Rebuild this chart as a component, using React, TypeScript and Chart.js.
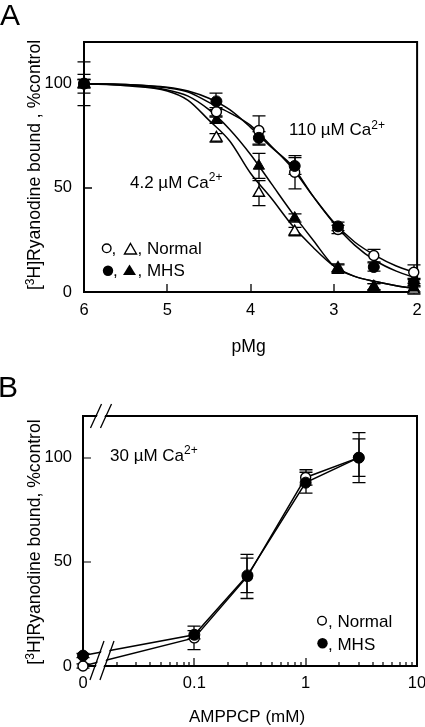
import React, { useEffect, useRef } from "react";
import { Chart, registerables } from "chart.js";

Chart.register(...registerables);

const FONT = '"Liberation Sans", Arial, Helvetica, sans-serif';
const TXT = 17;
const TITLE = 17.6;
const TICK = 16.5;

// ---------------- Panel A data ----------------
const pMgTicks = [2, 3, 4, 5, 6];
const pctTicks = [0, 50, 100];
const pMgPoints = [6, 4.41, 3.9, 3.47, 2.95, 2.52, 2.04];
const ca110Normal = [100, 86.5, 77.5, 57.5, 30, 17.5, 9.5];
const ca110NormalErr = [10.5, 2, 7, 8, 2, 3, 3.5];
const ca110MHS = [100, 91.5, 74, 60.5, 31.5, 12, 4.5];
const ca110MHSErr = [4.5, 4, 3, 4, 2, 2, 2];
const ca4Normal = [100, 74, 47.5, 29, 11.5, 2.5, 1];
const ca4NormalErr = [2, 2, 6, 2, 2, 1.5, 2];
const ca4MHS = [100, 82.5, 60.5, 35.5, 11, 2.5, 2];
const ca4MHSErr = [2, 1.5, 6, 2, 2, 1.5, 2];

const pMgCurve = [6, 5.5, 5, 4.75, 4.5, 4.25, 4, 3.75, 3.5, 3.25, 3, 2.75, 2.5, 2.25, 2];
const fit110Normal = [100, 99.6, 98, 96, 91, 86, 80, 70, 59.5, 46, 33.5, 24, 17.5, 12.5, 9];
const fit110MHS = [100, 99.6, 98.3, 96.5, 93, 87.5, 79, 69.5, 60.5, 46, 33, 22.5, 15, 10, 6.5];
const fit4MHS = [100, 99.3, 97, 94, 87.5, 78, 66, 52, 38, 25, 12.5, 7.5, 5, 3, 1.5];
const fit4Normal = [100, 99, 96.5, 92, 82.5, 72.5, 57, 45, 32, 21.5, 12.5, 7.5, 5, 3, 1.5];

// ---------------- Panel B data ----------------
const amppcp = [0, 0.1, 0.3, 1, 3];
const ZERO_AT = 0.01; // "0" is drawn at the axis break position
const amppcpTicks = [0.01, 0.1, 1, 10];
const amppcpMinor = [0.02, 0.03, 0.04, 0.05, 0.06, 0.07, 0.08, 0.09, 0.2, 0.3, 0.4, 0.5, 0.6, 0.7, 0.8, 0.9, 2, 3, 4, 5, 6, 7, 8, 9];
const bNormal = [0, 13.5, 43, 90.5, 100];
const bNormalErr = [1, 5.6, 10.6, 3.7, 12];
const bMHS = [5, 15, 43.5, 88, 100];
const bMHSErr = [1, 2, 8.3, 5, 9];

type Part = [string, boolean?];

function richWidth(ctx: CanvasRenderingContext2D, parts: Part[], size: number) {
  let w = 0;
  for (const [t, sup] of parts) {
    ctx.font = `${sup ? 12 : size}px ${FONT}`;
    w += ctx.measureText(t).width;
  }
  return w;
}

function drawRich(ctx: CanvasRenderingContext2D, x: number, y: number, parts: Part[], size: number) {
  let cx = x;
  ctx.textBaseline = "alphabetic";
  ctx.textAlign = "left";
  for (const [t, sup] of parts) {
    ctx.font = `${sup ? 12 : size}px ${FONT}`;
    ctx.fillText(t, cx, sup ? y - 6.5 : y);
    cx += ctx.measureText(t).width;
  }
}

function drawRotated(ctx: CanvasRenderingContext2D, x: number, cy: number, parts: Part[], size: number) {
  const w = richWidth(ctx, parts, size);
  ctx.save();
  ctx.translate(x, cy);
  ctx.rotate(-Math.PI / 2);
  drawRich(ctx, -w / 2, 0, parts, size);
  ctx.restore();
}

function drawErrorBars(chart: any, half: number) {
  const ctx = chart.ctx as CanvasRenderingContext2D;
  const xs = chart.scales.x;
  const ys = chart.scales.y;
  ctx.save();
  ctx.strokeStyle = "#000";
  ctx.lineWidth = 1.3;
  chart.data.datasets.forEach((ds: any) => {
    if (!ds.errorBars) return;
    ds.data.forEach((p: any, i: number) => {
      const e = ds.errorBars[i];
      const x = Math.round(xs.getPixelForValue(p.x));
      const yT = ys.getPixelForValue(p.y + e);
      const yB = ys.getPixelForValue(p.y - e);
      ctx.beginPath();
      ctx.moveTo(x, yT);
      ctx.lineTo(x, yB);
      ctx.moveTo(x - half, yT);
      ctx.lineTo(x + half, yT);
      ctx.moveTo(x - half, yB);
      ctx.lineTo(x + half, yB);
      ctx.stroke();
    });
  });
  ctx.restore();
}

function triangle(ctx: CanvasRenderingContext2D, cx: number, top: number, w: number, h: number, filled: boolean) {
  ctx.beginPath();
  ctx.moveTo(cx, top);
  ctx.lineTo(cx + w / 2, top + h);
  ctx.lineTo(cx - w / 2, top + h);
  ctx.closePath();
  if (filled) {
    ctx.fillStyle = "#000";
    ctx.fill();
  } else {
    ctx.fillStyle = "#fff";
    ctx.fill();
    ctx.lineWidth = 1.4;
    ctx.strokeStyle = "#000";
    ctx.stroke();
  }
}

function circle(ctx: CanvasRenderingContext2D, cx: number, cy: number, r: number, filled: boolean) {
  ctx.beginPath();
  ctx.arc(cx, cy, r, 0, Math.PI * 2);
  if (filled) {
    ctx.fillStyle = "#000";
    ctx.fill();
  } else {
    ctx.fillStyle = "#fff";
    ctx.fill();
    ctx.lineWidth = 1.4;
    ctx.strokeStyle = "#000";
    ctx.stroke();
  }
}

const pts = (xs: number[], ys: number[]) => xs.map((x, i) => ({ x, y: ys[i] }));

const openPt = (style: string, r: number) => ({
  pointStyle: style,
  pointRadius: r,
  pointBackgroundColor: "#fff",
  pointBorderColor: "#000",
  pointBorderWidth: 1.4,
  showLine: false,
  clip: false as any,
});
const filledPt = (style: string, r: number) => ({
  pointStyle: style,
  pointRadius: r,
  pointBackgroundColor: "#000",
  pointBorderColor: "#000",
  pointBorderWidth: 1,
  showLine: false,
  clip: false as any,
});
const curve = (ys: number[]) => ({
  data: pts(pMgCurve, ys),
  showLine: true,
  pointRadius: 0,
  borderColor: "#000",
  borderWidth: 1.5,
  cubicInterpolationMode: "monotone" as const,
  order: 10,
  clip: false as any,
});

const tickFont = { family: FONT, size: TICK };

function makeChartA(canvas: HTMLCanvasElement) {
  const plugin = {
    id: "panelA",
    beforeDatasetsDraw(chart: any) {
      const ctx = chart.ctx as CanvasRenderingContext2D;
      const a = chart.chartArea;
      const xs = chart.scales.x;
      const ys = chart.scales.y;
      ctx.save();
      ctx.strokeStyle = "#000";
      ctx.lineWidth = 2;
      ctx.strokeRect(a.left, a.top, a.right - a.left, a.bottom - a.top);
      ctx.lineWidth = 1.3;
      ctx.beginPath();
      for (const v of pMgTicks) {
        const x = Math.round(xs.getPixelForValue(v));
        ctx.moveTo(x, a.bottom);
        ctx.lineTo(x, a.bottom - 8);
      }
      for (const v of pctTicks) {
        const y = Math.round(ys.getPixelForValue(v));
        ctx.moveTo(a.left, y);
        ctx.lineTo(a.left + 8, y);
      }
      ctx.stroke();
      ctx.restore();
      drawErrorBars(chart, 6.5);
    },
    afterDraw(chart: any) {
      const ctx = chart.ctx as CanvasRenderingContext2D;
      const a = chart.chartArea;
      ctx.save();
      ctx.fillStyle = "#000";
      ctx.font = `30px ${FONT}`;
      ctx.textAlign = "left";
      ctx.textBaseline = "alphabetic";
      ctx.fillText("A", 0, 25);
      drawRotated(ctx, 40, (a.top + a.bottom) / 2 - 2, [["["], ["3", true], ["H]Ryanodine bound , %control"]], TITLE);
      ctx.font = `${TITLE}px ${FONT}`;
      ctx.textAlign = "center";
      ctx.fillText("pMg", (a.left + a.right) / 2 - 2, 352);
      ctx.fillStyle = "#000";
      drawRich(ctx, 289, 135, [["110 µM Ca"], ["2+", true]], TXT);
      drawRich(ctx, 130, 187.5, [["4.2 µM Ca"], ["2+", true]], TXT);
      // legend
      circle(ctx, 106.7, 248.3, 4.3, false);
      triangle(ctx, 130.5, 243.5, 12, 10.5, false);
      circle(ctx, 108, 270.8, 5.2, true);
      triangle(ctx, 129.5, 264.5, 13, 10.5, true);
      ctx.fillStyle = "#000";
      drawRich(ctx, 111.5, 254, [[","]], TXT);
      drawRich(ctx, 137.5, 254, [[", Normal"]], TXT);
      drawRich(ctx, 113, 276, [[","]], TXT);
      drawRich(ctx, 137.5, 276, [[", MHS"]], TXT);
      ctx.restore();
    },
  };

  return new Chart(canvas, {
    type: "scatter",
    data: {
      datasets: [
        { data: pts(pMgPoints, ca110MHS), errorBars: ca110MHSErr, ...filledPt("circle", 5.5), order: 0 } as any,
        { data: pts(pMgPoints, ca110Normal), errorBars: ca110NormalErr, ...openPt("circle", 5), order: 1 } as any,
        { data: pts(pMgPoints, ca4MHS), errorBars: ca4MHSErr, ...filledPt("triangle", 6.5), order: 2 } as any,
        { data: pts(pMgPoints, ca4Normal), errorBars: ca4NormalErr, ...openPt("triangle", 6.5), order: 3 } as any,
        curve(fit110Normal) as any,
        curve(fit110MHS) as any,
        curve(fit4MHS) as any,
        curve(fit4Normal) as any,
      ],
    },
    options: {
      animation: false,
      responsive: false,
      devicePixelRatio: 1,
      events: [],
      layout: { padding: { top: 42, right: 7, left: 0, bottom: 0 } },
      plugins: { legend: { display: false }, tooltip: { enabled: false } },
      scales: {
        x: {
          type: "linear",
          reverse: true,
          min: 2,
          max: 6,
          grid: { display: false, drawTicks: false },
          border: { display: false },
          ticks: { color: "#000", font: tickFont, padding: 9, maxRotation: 0, minRotation: 0, autoSkip: false },
          afterBuildTicks: (s: any) => {
            s.ticks = pMgTicks.map((v) => ({ value: v }));
          },
          afterFit: (s: any) => {
            s.height = 70;
            s.paddingLeft = 0;
            s.paddingRight = 0;
          },
        },
        y: {
          type: "linear",
          min: 0,
          max: 120,
          grid: { display: false, drawTicks: false },
          border: { display: false },
          ticks: { color: "#000", font: tickFont, padding: 12, autoSkip: false },
          afterBuildTicks: (s: any) => {
            s.ticks = pctTicks.map((v) => ({ value: v }));
          },
          afterFit: (s: any) => {
            s.width = 84;
            s.paddingTop = 0;
            s.paddingBottom = 0;
          },
        },
      },
    } as any,
    plugins: [plugin],
  });
}

function makeChartB(canvas: HTMLCanvasElement) {
  const xPos = amppcp.map((v) => (v === 0 ? ZERO_AT : v));
  const plugin = {
    id: "panelB",
    beforeDatasetsDraw(chart: any) {
      const ctx = chart.ctx as CanvasRenderingContext2D;
      const a = chart.chartArea;
      const xs = chart.scales.x;
      const ys = chart.scales.y;
      ctx.save();
      ctx.strokeStyle = "#000";
      ctx.lineWidth = 2;
      ctx.strokeRect(a.left, a.top, a.right - a.left, a.bottom - a.top);
      ctx.lineWidth = 1.2;
      ctx.beginPath();
      for (const v of amppcpTicks) {
        const x = Math.round(xs.getPixelForValue(v));
        ctx.moveTo(x, a.bottom);
        ctx.lineTo(x, a.bottom - 8);
      }
      for (const v of amppcpMinor) {
        const x = Math.round(xs.getPixelForValue(v));
        ctx.moveTo(x, a.bottom);
        ctx.lineTo(x, a.bottom - 4);
      }
      for (const v of pctTicks) {
        const y = Math.round(ys.getPixelForValue(v));
        ctx.moveTo(a.left, y);
        ctx.lineTo(a.left + 8, y);
      }
      ctx.stroke();
      ctx.restore();
      drawErrorBars(chart, 6.5);
    },
    afterDatasetsDraw(chart: any) {
      const ctx = chart.ctx as CanvasRenderingContext2D;
      const a = chart.chartArea;
      const brk = (c1: number, c2: number, y: number, up: number, down: number, s: number) => {
        ctx.fillStyle = "#fff";
        ctx.beginPath();
        ctx.moveTo(c1 - down * s + 1.2, y + down);
        ctx.lineTo(c1 + up * s + 1.2, y - up);
        ctx.lineTo(c2 + up * s - 1.2, y - up);
        ctx.lineTo(c2 - down * s - 1.2, y + down);
        ctx.closePath();
        ctx.fill();
        ctx.strokeStyle = "#000";
        ctx.lineWidth = 1.3;
        ctx.beginPath();
        for (const c of [c1, c2]) {
          ctx.moveTo(c - down * s, y + down);
          ctx.lineTo(c + up * s, y - up);
        }
        ctx.stroke();
      };
      ctx.save();
      brk(a.left + 12, a.left + 22, a.bottom, 25, 14, 0.36);
      brk(a.left + 13, a.left + 23, a.top, 12, 12, 0.46);
      ctx.restore();
    },
    afterDraw(chart: any) {
      const ctx = chart.ctx as CanvasRenderingContext2D;
      const a = chart.chartArea;
      ctx.save();
      ctx.fillStyle = "#000";
      ctx.font = `30px ${FONT}`;
      ctx.textAlign = "left";
      ctx.textBaseline = "alphabetic";
      ctx.fillText("B", -2, 34.7);
      drawRotated(ctx, 40, (a.top + a.bottom) / 2 + 1, [["["], ["3", true], ["H]Ryanodine bound, %control"]], TITLE);
      ctx.font = `${TXT}px ${FONT}`;
      ctx.textAlign = "center";
      ctx.fillText("AMPPCP (mM)", 247, 360);
      drawRich(ctx, 110, 98.5, [["30 µM Ca"], ["2+", true]], TXT);
      circle(ctx, 322, 258.7, 4.3, false);
      circle(ctx, 322.5, 281.3, 5.2, true);
      ctx.fillStyle = "#000";
      drawRich(ctx, 328, 264.7, [[", Normal"]], TXT);
      drawRich(ctx, 328, 288, [[", MHS"]], TXT);
      ctx.restore();
    },
  };

  return new Chart(canvas, {
    type: "scatter",
    data: {
      datasets: [
        {
          data: pts(xPos, bMHS),
          errorBars: bMHSErr,
          ...filledPt("circle", 5.5),
          showLine: true,
          borderColor: "#000",
          borderWidth: 1.5,
          order: 0,
        } as any,
        {
          data: pts(xPos, bNormal),
          errorBars: bNormalErr,
          ...openPt("circle", 5),
          showLine: true,
          borderColor: "#000",
          borderWidth: 1.5,
          order: 1,
        } as any,
      ],
    },
    options: {
      animation: false,
      responsive: false,
      devicePixelRatio: 1,
      events: [],
      layout: { padding: { top: 54, right: 8, left: 0, bottom: 0 } },
      plugins: { legend: { display: false }, tooltip: { enabled: false } },
      scales: {
        x: {
          type: "logarithmic",
          min: 0.01,
          max: 10,
          grid: { display: false, drawTicks: false },
          border: { display: false },
          ticks: {
            color: "#000",
            font: tickFont,
            padding: 8,
            maxRotation: 0,
            minRotation: 0,
            autoSkip: false,
            callback: (v: any) => (Number(v) === ZERO_AT ? "0" : String(Number(v))),
          },
          afterBuildTicks: (s: any) => {
            s.ticks = amppcpTicks.map((v) => ({ value: v }));
          },
          afterFit: (s: any) => {
            s.height = 61;
            s.paddingLeft = 0;
            s.paddingRight = 0;
          },
        },
        y: {
          type: "linear",
          min: 0,
          max: 120,
          grid: { display: false, drawTicks: false },
          border: { display: false },
          ticks: { color: "#000", font: tickFont, padding: 11, autoSkip: false },
          afterBuildTicks: (s: any) => {
            s.ticks = pctTicks.map((v) => ({ value: v }));
          },
          afterFit: (s: any) => {
            s.width = 83;
            s.paddingTop = 0;
            s.paddingBottom = 0;
          },
        },
      },
    } as any,
    plugins: [plugin],
  });
}

export default function App() {
  const refA = useRef<HTMLCanvasElement>(null);
  const refB = useRef<HTMLCanvasElement>(null);
  useEffect(() => {
    const a = makeChartA(refA.current!);
    const b = makeChartB(refB.current!);
    return () => {
      a.destroy();
      b.destroy();
    };
  }, []);
  return (
    <div style={{ position: "fixed", left: 0, top: 0, width: 425, height: 727, background: "#fff" }}>
      <canvas ref={refA} width={425} height={362} style={{ position: "absolute", left: 0, top: 0, display: "block" }} />
      <canvas ref={refB} width={425} height={365} style={{ position: "absolute", left: 0, top: 362, display: "block" }} />
    </div>
  );
}
